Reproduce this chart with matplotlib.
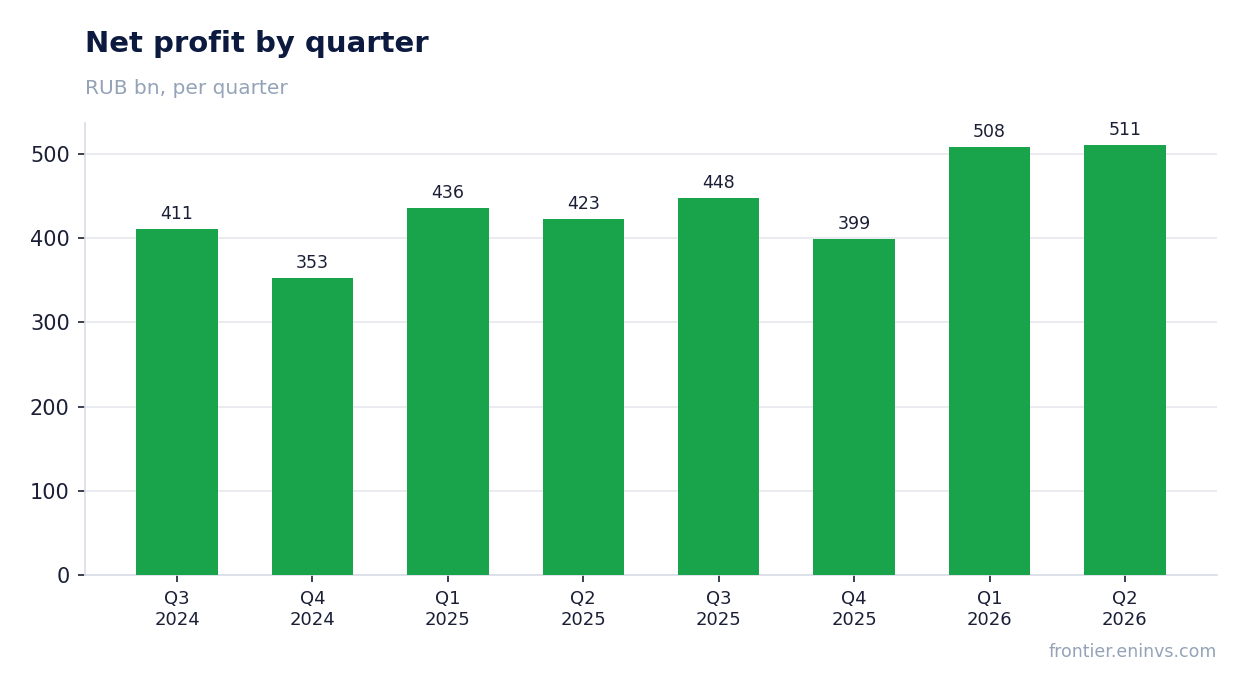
import matplotlib
matplotlib.use("Agg")
import matplotlib.pyplot as plt

categories = ["Q3\n2024", "Q4\n2024", "Q1\n2025", "Q2\n2025", "Q3\n2025", "Q4\n2025", "Q1\n2026", "Q2\n2026"]
values = [411, 353, 436, 423, 448, 399, 508, 511]

title = "Net profit by quarter"
subtitle = "RUB bn, per quarter"
footer = "frontier.eninvs.com"

bar_color = "#19a34a"
text_dark = "#1a1f36"
grid_color = "#e5e8ef"

fig = plt.figure(figsize=(12.47, 6.93), dpi=100)
ax = fig.add_axes([85/1247, 1 - 575/693, (1217-85)/1247, (575-123)/693])

x = list(range(len(categories)))
bars = ax.bar(x, values, width=0.6, color=bar_color, zorder=3)
ax.set_ylim(0, max(values) * 1.05)
ax.set_xticks(x)
ax.set_xticklabels(categories, fontsize=13, color=text_dark)
ax.set_yticks([0, 100, 200, 300, 400, 500])
ax.tick_params(axis="y", labelsize=15, labelcolor=text_dark, color=text_dark, length=5, width=1.2, pad=6)
ax.tick_params(axis="x", color=text_dark, length=5, width=1.2, pad=6)
ax.grid(axis="y", color=grid_color, linewidth=1.2, zorder=0)
ax.set_axisbelow(True)
for s in ["top", "right"]:
    ax.spines[s].set_visible(False)
for s in ["left", "bottom"]:
    ax.spines[s].set_color("#d9dde7")
    ax.spines[s].set_linewidth(1.2)

for b, v in zip(bars, values):
    ax.annotate(f"{v}", (b.get_x() + b.get_width()/2, v), xytext=(0, 4),
                textcoords="offset points", ha="center", va="bottom",
                fontsize=12.5, color=text_dark)

fig.text(85/1247, 1 - 44/693, title, fontsize=21, fontweight="bold", color="#0d1a40", ha="left", va="center")
fig.text(85/1247, 1 - 88/693, subtitle, fontsize=14.5, color="#94a3b8", ha="left", va="center")
fig.text(1217/1247, 1 - 652/693, footer, fontsize=12.5, color="#94a3b8", ha="right", va="center")

fig.savefig("out.png", dpi=100)
